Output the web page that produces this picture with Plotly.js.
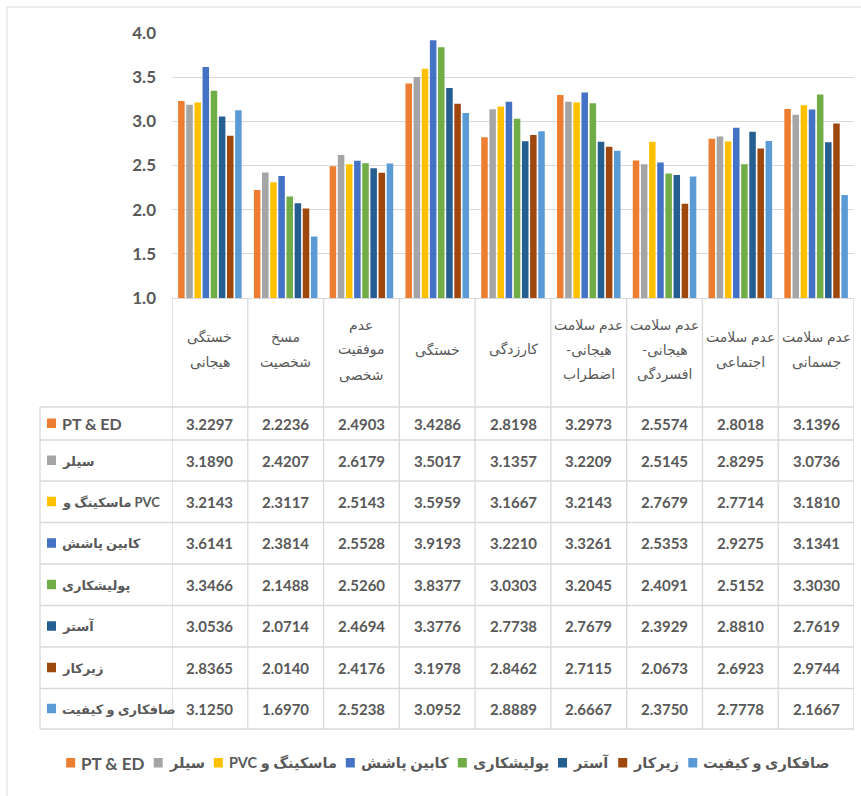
<!DOCTYPE html>
<html><head><meta charset="utf-8">
<script src="https://cdn.plot.ly/plotly-3.0.1.min.js"></script>
<style>html,body{margin:0;padding:0;background:#fff}#chart{width:861px;height:796px}</style>
</head><body><div id="chart"></div>
<script>
// ---- data ----
const categories = ['خستگی هیجانی', 'مسخ شخصیت', 'عدم موفقیت شخصی', 'خستگی', 'کارزدگی',
  'عدم سلامت هیجانی-اضطراب', 'عدم سلامت هیجانی-افسردگی', 'عدم سلامت اجتماعی', 'عدم سلامت جسمانی'];
const categoryLines = [['خستگی', 'هیجانی'], ['مسخ', 'شخصیت'], ['عدم', 'موفقیت', 'شخصی'], ['خستگی'], ['کارزدگی'],
  ['عدم سلامت', 'هیجانی-', 'اضطراب'], ['عدم سلامت', 'هیجانی-', 'افسردگی'], ['عدم سلامت', 'اجتماعی'], ['عدم سلامت', 'جسمانی']];
const seriesNames = ['PT & ED', 'سیلر', 'ماسکینگ و PVC', 'کابین پاشش', 'پولیشکاری', 'آستر', 'زیرکار', 'صافکاری و کیفیت'];
const seriesColors = ['#ED7D31', '#A5A5A5', '#FFC000', '#4472C4', '#70AD47', '#255E91', '#9E480E', '#5B9BD5'];
const ptEd       = [3.2297, 2.2236, 2.4903, 3.4286, 2.8198, 3.2973, 2.5574, 2.8018, 3.1396];
const seler      = [3.1890, 2.4207, 2.6179, 3.5017, 3.1357, 3.2209, 2.5145, 2.8295, 3.0736];
const pvcMasking = [3.2143, 2.3117, 2.5143, 3.5959, 3.1667, 3.2143, 2.7679, 2.7714, 3.1810];
const cabinSpray = [3.6141, 2.3814, 2.5528, 3.9193, 3.2210, 3.3261, 2.5353, 2.9275, 3.1341];
const polishing  = [3.3466, 2.1488, 2.5260, 3.8377, 3.0303, 3.2045, 2.4091, 2.5152, 3.3030];
const primer     = [3.0536, 2.0714, 2.4694, 3.3776, 2.7738, 2.7679, 2.3929, 2.8810, 2.7619];
const underbody  = [2.8365, 2.0140, 2.4176, 3.1978, 2.8462, 2.7115, 2.0673, 2.6923, 2.9744];
const quality    = [3.1250, 1.6970, 2.5238, 3.0952, 2.8889, 2.6667, 2.3750, 2.7778, 2.1667];
const yTicks = [1.0, 1.5, 2.0, 2.5, 3.0, 3.5, 4.0];
const seriesValues = [ptEd, seler, pvcMasking, cabinSpray, polishing, primer, underbody, quality];

// ---- layout helpers (pixel -> paper) ----
const PL = 172, PR = 854, PT = 33, PB = 298;
const X = px => (px - PL) / (PR - PL);
const Y = py => (PB - py) / (PB - PT);
const TXT = '#595959', GRID = '#d9d9d9';
const FONT = 'Lato, "DejaVu Sans", sans-serif';
const RLE = '\u202B', PDF = '\u202C';
const isPersian = t => /[\u0600-\u06FF]/.test(t);

const traces = seriesNames.map((n, i) => ({
  type: 'bar', name: n, x: categories, y: seriesValues[i],
  marker: {color: seriesColors[i]}, hoverinfo: 'skip'
}));

const shapes = [];
const annotations = [];
const line = (x0, y0, x1, y1, xref) => shapes.push({type: 'line', xref: xref || 'paper', yref: 'paper',
  x0, y0, x1, y1, line: {color: GRID, width: 1.3}, layer: 'above'});

// outer chart border (left/top visible)
shapes.push({type: 'rect', xref: 'paper', yref: 'paper', x0: X(7), x1: X(900), y0: Y(7), y1: Y(840),
  line: {color: GRID, width: 1}, fillcolor: 'rgba(0,0,0,0)'});

// table geometry
const rowLines = [407, 440, 481, 522.5, 564, 605.5, 647, 688.5, 729];
const tableLeft = 40;
for (let k = 0; k <= categories.length; k++) line(k - 0.5, Y(PB), k - 0.5, Y(rowLines[rowLines.length - 1]), 'x');
line(X(tableLeft), Y(rowLines[0]), X(tableLeft), Y(rowLines[rowLines.length - 1]));
rowLines.forEach(r => line(X(tableLeft), Y(r), 1, Y(r)));

// header labels
const headCenter = 349, headStep = 25;
categoryLines.forEach((lines, i) => {
  lines.forEach((t, k) => {
    annotations.push({xref: 'x', yref: 'paper', x: i, y: Y(headCenter + (k - (lines.length - 1) / 2) * headStep),
      text: RLE + t + PDF, showarrow: false, xanchor: 'center', yanchor: 'middle',
      font: {family: FONT, size: 14, color: TXT}});
  });
});

// data rows
seriesNames.forEach((n, s) => {
  const cy = (rowLines[s] + rowLines[s + 1]) / 2;
  shapes.push({type: 'rect', xref: 'paper', yref: 'paper', x0: X(47), x1: X(56), y0: Y(cy - 5), y1: Y(cy + 4.5),
    line: {width: 0}, fillcolor: seriesColors[s]});
  annotations.push({xref: 'paper', yref: 'paper', x: X(60), y: Y(cy), text: n, showarrow: false,
    xanchor: 'left', yanchor: 'middle',
    font: {family: FONT, size: isPersian(n) ? 13 : 16, color: TXT, weight: 'bold'}});
  seriesValues[s].forEach((v, i) => {
    annotations.push({xref: 'x', yref: 'paper', x: i, y: Y(cy), text: v.toFixed(4), showarrow: false,
      xanchor: 'center', yanchor: 'middle', font: {family: FONT, size: 15, color: TXT, weight: 'bold'}});
  });
});

// custom legend (positions refined after measuring rendered text)
const ly = 763, SQ = 9, G1 = 4, G2 = 11, LEG_CENTER = 447;
const legAnnIdx = [], legShapeIdx = [];
seriesNames.forEach((n, s) => {
  legShapeIdx.push(shapes.length);
  shapes.push({type: 'rect', xref: 'paper', yref: 'paper', x0: X(0), x1: X(SQ), y0: Y(ly - 5), y1: Y(ly + 4.5),
    line: {width: 0}, fillcolor: seriesColors[s]});
  legAnnIdx.push(annotations.length);
  annotations.push({xref: 'paper', yref: 'paper', x: X(SQ + G1), y: Y(ly), text: RLE + n + PDF, showarrow: false,
    xanchor: 'left', yanchor: 'middle',
    font: {family: FONT, size: isPersian(n) ? 14.5 : 17, color: TXT, weight: 'bold'}});
});

const layout = {
  width: 861, height: 796,
  margin: {l: PL, r: 861 - PR, t: PT, b: 796 - PB, pad: 0},
  paper_bgcolor: '#fff', plot_bgcolor: '#fff',
  barmode: 'group', bargap: 0.14, bargroupgap: 0.2,
  showlegend: false,
  xaxis: {type: 'category', range: [-0.5, categories.length - 0.5], showticklabels: false, showgrid: false,
    zeroline: false, showline: true, linecolor: GRID, linewidth: 1.3, fixedrange: true},
  yaxis: {range: [1, 4], tickvals: yTicks, ticktext: yTicks.map(v => v.toFixed(1)), showgrid: true,
    gridcolor: GRID, gridwidth: 1.3, zeroline: false, showline: false, ticks: '', ticklabelstandoff: 15,
    tickfont: {family: FONT, size: 17, color: TXT, weight: 'bold'}, fixedrange: true},
  shapes, annotations
};
Plotly.newPlot('chart', traces, layout, {staticPlot: true, displayModeBar: false}).then(gd => {
  const widths = legAnnIdx.map(k => {
    const el = gd.querySelector('.annotation[data-index="' + k + '"] text');
    return el ? el.getBBox().width : 60;
  });
  const total = widths.reduce((a, w) => a + SQ + G1 + w + G2, 0) - G2;
  let lx = LEG_CENTER - total / 2;
  const upd = {};
  legAnnIdx.forEach((k, s) => {
    upd['shapes[' + legShapeIdx[s] + '].x0'] = X(lx);
    upd['shapes[' + legShapeIdx[s] + '].x1'] = X(lx + SQ);
    upd['annotations[' + k + '].x'] = X(lx + SQ + G1);
    lx += SQ + G1 + widths[s] + G2;
  });
  return Plotly.relayout(gd, upd);
});
</script></body></html>
